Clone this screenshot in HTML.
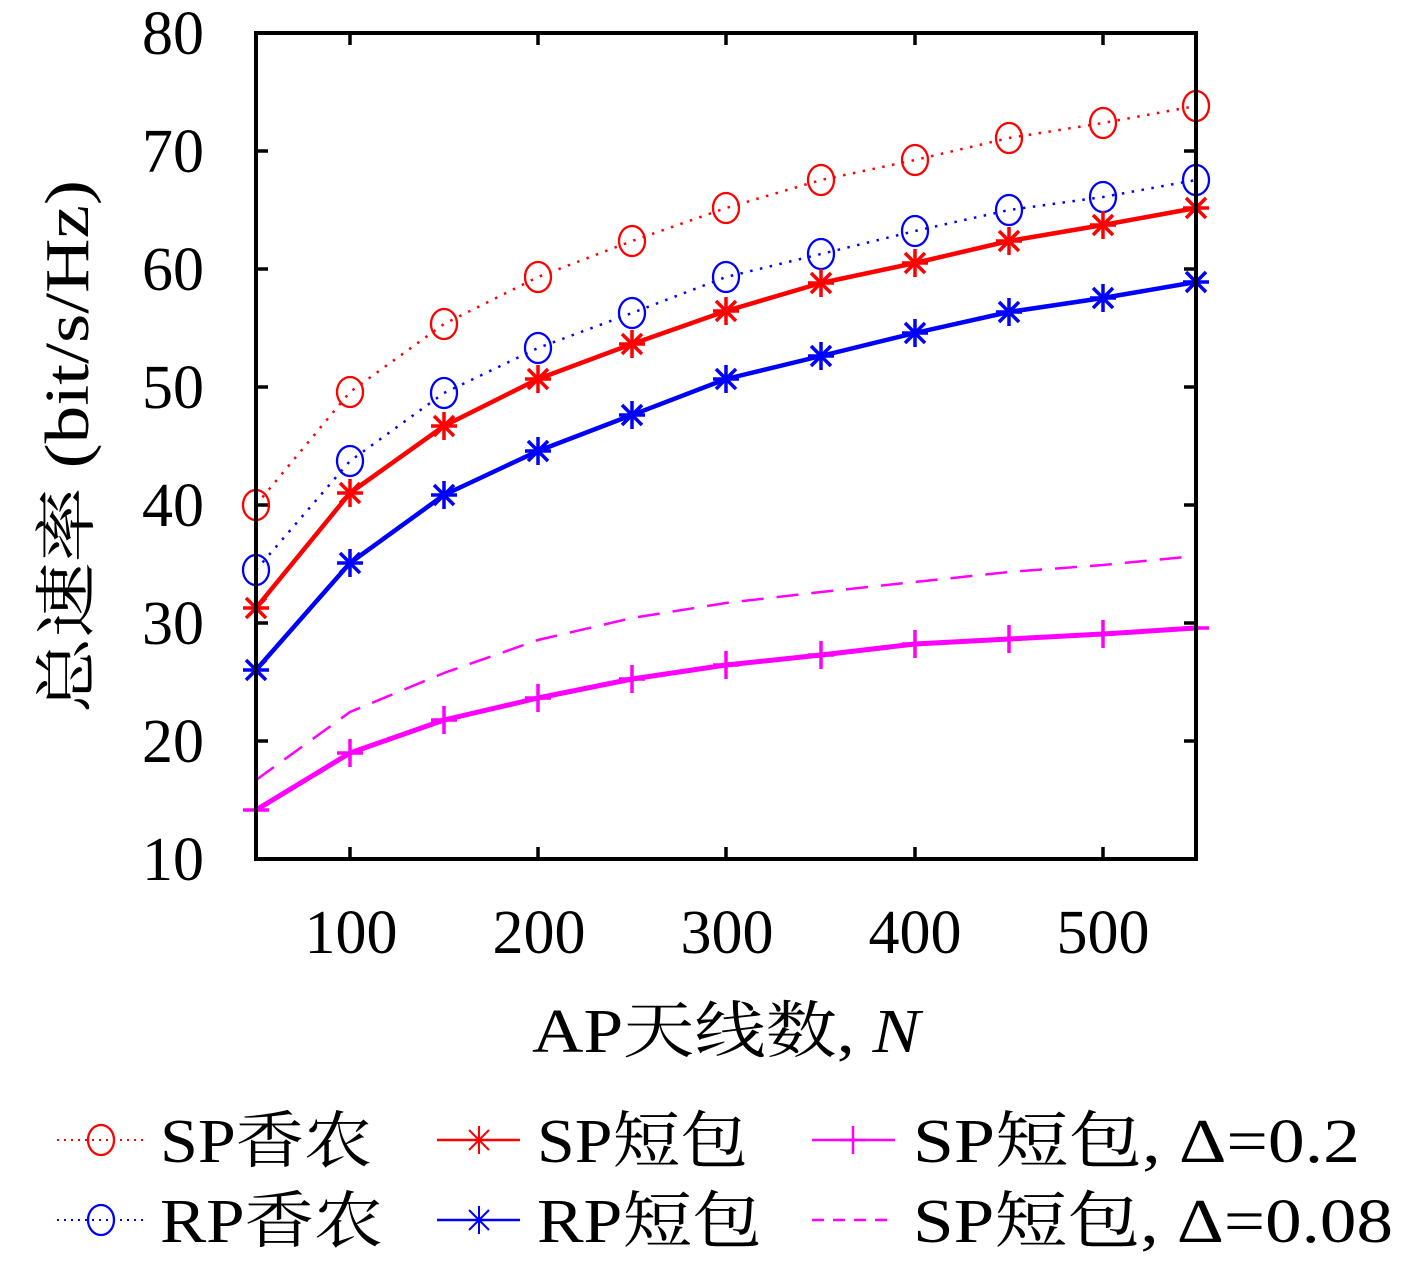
<!DOCTYPE html>
<html>
<head>
<meta charset="utf-8">
<style>
html,body{margin:0;padding:0;background:#fff;}
svg{display:block;}
svg text{font-family:"Liberation Serif","Times New Roman","Noto Serif CJK SC","DejaVu Serif",serif;fill:#000;}
</style>
</head>
<body>
<svg width="1417" height="1267" viewBox="0 0 1417 1267" xmlns="http://www.w3.org/2000/svg" font-family="'Liberation Serif', 'Times New Roman', 'Noto Serif CJK SC', 'DejaVu Serif', serif">
<defs>
  <g id="star">
    <line x1="-13" y1="0" x2="13" y2="0"/>
    <line x1="0" y1="-14" x2="0" y2="14"/>
    <line x1="-10" y1="-10" x2="10" y2="10"/>
    <line x1="-10" y1="10" x2="10" y2="-10"/>
  </g>
  <g id="plus">
    <line x1="-13" y1="0" x2="13" y2="0"/>
    <line x1="0" y1="-14" x2="0" y2="14"/>
  </g>
</defs>
<rect width="1417" height="1267" fill="#fff"/>

<!-- Series: SP Shannon (red dotted, circles) -->
<polyline fill="none" stroke="#ff0000" stroke-width="2.5" stroke-dasharray="2.5 7.5"
  points="256,505 350,392 444,324 538,277 632,241 726,208 821,180 915,160 1009,138 1103,123 1196,106"/>
<g fill="none" stroke="#ff0000" stroke-width="2.3">
  <ellipse cx="256" cy="505" rx="13" ry="15"/><ellipse cx="350" cy="392" rx="13" ry="15"/>
  <ellipse cx="444" cy="324" rx="13" ry="15"/><ellipse cx="538" cy="277" rx="13" ry="15"/>
  <ellipse cx="632" cy="241" rx="13" ry="15"/><ellipse cx="726" cy="208" rx="13" ry="15"/>
  <ellipse cx="821" cy="180" rx="13" ry="15"/><ellipse cx="915" cy="160" rx="13" ry="15"/>
  <ellipse cx="1009" cy="138" rx="13" ry="15"/><ellipse cx="1103" cy="123" rx="13" ry="15"/>
  <ellipse cx="1196" cy="106" rx="13" ry="15"/>
</g>

<!-- Series: RP Shannon (blue dotted, circles) -->
<polyline fill="none" stroke="#0000ff" stroke-width="2.5" stroke-dasharray="2.5 7.5"
  points="256,570 350,461 444,393 538,348 632,313 726,277 821,254 915,231 1009,210 1103,197 1196,180"/>
<g fill="none" stroke="#0000ff" stroke-width="2.3">
  <ellipse cx="256" cy="570" rx="13" ry="15"/><ellipse cx="350" cy="461" rx="13" ry="15"/>
  <ellipse cx="444" cy="393" rx="13" ry="15"/><ellipse cx="538" cy="348" rx="13" ry="15"/>
  <ellipse cx="632" cy="313" rx="13" ry="15"/><ellipse cx="726" cy="277" rx="13" ry="15"/>
  <ellipse cx="821" cy="254" rx="13" ry="15"/><ellipse cx="915" cy="231" rx="13" ry="15"/>
  <ellipse cx="1009" cy="210" rx="13" ry="15"/><ellipse cx="1103" cy="197" rx="13" ry="15"/>
  <ellipse cx="1196" cy="180" rx="13" ry="15"/>
</g>

<!-- Series: SP short packet (red solid, stars) -->
<polyline fill="none" stroke="#ff0000" stroke-width="4.5" stroke-linejoin="round"
  points="256,608 350,493 444,426 538,379 632,344 726,311 821,283 915,263 1009,241 1103,225 1196,208"/>
<g stroke="#ff0000" stroke-width="3.5">
  <use href="#star" x="256" y="608"/><use href="#star" x="350" y="493"/>
  <use href="#star" x="444" y="426"/><use href="#star" x="538" y="379"/>
  <use href="#star" x="632" y="344"/><use href="#star" x="726" y="311"/>
  <use href="#star" x="821" y="283"/><use href="#star" x="915" y="263"/>
  <use href="#star" x="1009" y="241"/><use href="#star" x="1103" y="225"/>
  <use href="#star" x="1196" y="208"/>
</g>

<!-- Series: RP short packet (blue solid, stars) -->
<polyline fill="none" stroke="#0000ff" stroke-width="4.5" stroke-linejoin="round"
  points="256,670 350,563 444,495 538,451 632,415 726,379 821,356 915,333 1009,312 1103,298 1196,282"/>
<g stroke="#0000ff" stroke-width="3.5">
  <use href="#star" x="256" y="670"/><use href="#star" x="350" y="563"/>
  <use href="#star" x="444" y="495"/><use href="#star" x="538" y="451"/>
  <use href="#star" x="632" y="415"/><use href="#star" x="726" y="379"/>
  <use href="#star" x="821" y="356"/><use href="#star" x="915" y="333"/>
  <use href="#star" x="1009" y="312"/><use href="#star" x="1103" y="298"/>
  <use href="#star" x="1196" y="282"/>
</g>

<!-- Series: SP short, Delta=0.08 (magenta dashed) -->
<polyline fill="none" stroke="#ff00ff" stroke-width="2.5" stroke-dasharray="22 13"
  points="256,780 350,712 444,673 538,640 632,618 726,603 821,592 915,582 1009,572 1103,565 1196,556"/>

<!-- Series: SP short, Delta=0.2 (magenta solid, plus) -->
<polyline fill="none" stroke="#ff00ff" stroke-width="5" stroke-linejoin="round"
  points="256,810 350,753 444,720 538,698 632,679 726,665 821,655 915,644 1009,639 1103,634 1196,628"/>
<g stroke="#ff00ff" stroke-width="3.5">
  <use href="#plus" x="256" y="810"/><use href="#plus" x="350" y="753"/>
  <use href="#plus" x="444" y="720"/><use href="#plus" x="538" y="698"/>
  <use href="#plus" x="632" y="679"/><use href="#plus" x="726" y="665"/>
  <use href="#plus" x="821" y="655"/><use href="#plus" x="915" y="644"/>
  <use href="#plus" x="1009" y="639"/><use href="#plus" x="1103" y="634"/>
  <use href="#plus" x="1196" y="628"/>
</g>

<!-- Frame -->
<rect x="256" y="33" width="940" height="826" fill="none" stroke="#000" stroke-width="4"/>
<g stroke="#000" stroke-width="3.5">
  <line x1="256" y1="151" x2="268" y2="151"/><line x1="1196" y1="151" x2="1184" y2="151"/>
  <line x1="256" y1="269" x2="268" y2="269"/><line x1="1196" y1="269" x2="1184" y2="269"/>
  <line x1="256" y1="387" x2="268" y2="387"/><line x1="1196" y1="387" x2="1184" y2="387"/>
  <line x1="256" y1="505" x2="268" y2="505"/><line x1="1196" y1="505" x2="1184" y2="505"/>
  <line x1="256" y1="623" x2="268" y2="623"/><line x1="1196" y1="623" x2="1184" y2="623"/>
  <line x1="256" y1="741" x2="268" y2="741"/><line x1="1196" y1="741" x2="1184" y2="741"/>
  <line x1="350" y1="859" x2="350" y2="847"/><line x1="350" y1="33" x2="350" y2="45"/>
  <line x1="538" y1="859" x2="538" y2="847"/><line x1="538" y1="33" x2="538" y2="45"/>
  <line x1="726" y1="859" x2="726" y2="847"/><line x1="726" y1="33" x2="726" y2="45"/>
  <line x1="915" y1="859" x2="915" y2="847"/><line x1="915" y1="33" x2="915" y2="45"/>
  <line x1="1103" y1="859" x2="1103" y2="847"/><line x1="1103" y1="33" x2="1103" y2="45"/>
</g>

<!-- Y tick labels -->
<g font-size="62" text-anchor="end" font-family="'Liberation Serif', 'Times New Roman', 'DejaVu Serif', serif">
  <text x="204" y="54" style="font-family:'Liberation Serif','Times New Roman',serif">80</text>
  <text x="204" y="172" style="font-family:'Liberation Serif','Times New Roman',serif">70</text>
  <text x="204" y="290" style="font-family:'Liberation Serif','Times New Roman',serif">60</text>
  <text x="204" y="408" style="font-family:'Liberation Serif','Times New Roman',serif">50</text>
  <text x="204" y="526" style="font-family:'Liberation Serif','Times New Roman',serif">40</text>
  <text x="204" y="644" style="font-family:'Liberation Serif','Times New Roman',serif">30</text>
  <text x="204" y="762" style="font-family:'Liberation Serif','Times New Roman',serif">20</text>
  <text x="204" y="880" style="font-family:'Liberation Serif','Times New Roman',serif">10</text>
</g>
<!-- X tick labels -->
<g font-size="62" text-anchor="middle">
  <text x="351" y="953" style="font-family:'Liberation Serif','Times New Roman',serif">100</text>
  <text x="539" y="953" style="font-family:'Liberation Serif','Times New Roman',serif">200</text>
  <text x="727" y="953" style="font-family:'Liberation Serif','Times New Roman',serif">300</text>
  <text x="915" y="953" style="font-family:'Liberation Serif','Times New Roman',serif">400</text>
  <text x="1103" y="953" style="font-family:'Liberation Serif','Times New Roman',serif">500</text>
</g>

<!-- Axis labels -->
<text x="532" y="1052" font-size="62" textLength="388" lengthAdjust="spacingAndGlyphs" style="font-family:'Liberation Serif','Noto Serif CJK SC',serif">AP天线数, <tspan font-style="italic">N</tspan></text>
<text transform="translate(88,446.5) rotate(-90)" x="0" y="0" font-size="62" text-anchor="middle" textLength="533" lengthAdjust="spacingAndGlyphs" style="font-family:'Liberation Serif','Noto Serif CJK SC',serif">总速率 (bit/s/Hz)</text>

<!-- Legend row 1 -->
<line x1="57" y1="1140" x2="145" y2="1140" stroke="#ff0000" stroke-width="2" stroke-dasharray="2 5"/>
<ellipse cx="101" cy="1140" rx="13" ry="15" fill="none" stroke="#ff0000" stroke-width="2.3"/>
<text x="160" y="1162" font-size="62" textLength="212" lengthAdjust="spacingAndGlyphs" style="font-family:'Liberation Serif','Noto Serif CJK SC',serif">SP香农</text>

<line x1="437" y1="1140" x2="520" y2="1140" stroke="#ff0000" stroke-width="2.5"/>
<g stroke="#ff0000" stroke-width="2"><use href="#star" x="479" y="1140"/></g>
<text x="537" y="1162" font-size="62" textLength="211" lengthAdjust="spacingAndGlyphs" style="font-family:'Liberation Serif','Noto Serif CJK SC',serif">SP短包</text>

<line x1="812" y1="1140" x2="895" y2="1140" stroke="#ff00ff" stroke-width="2.5"/>
<g stroke="#ff00ff" stroke-width="2.5"><use href="#plus" x="853" y="1140"/></g>
<text x="913" y="1162" font-size="62" textLength="447" lengthAdjust="spacingAndGlyphs" style="font-family:'Liberation Serif','Noto Serif CJK SC',serif">SP短包, Δ=0.2</text>

<!-- Legend row 2 -->
<line x1="57" y1="1220" x2="145" y2="1220" stroke="#0000ff" stroke-width="2" stroke-dasharray="2 5"/>
<ellipse cx="101" cy="1220" rx="13" ry="15" fill="none" stroke="#0000ff" stroke-width="2.3"/>
<text x="160" y="1242" font-size="62" textLength="223" lengthAdjust="spacingAndGlyphs" style="font-family:'Liberation Serif','Noto Serif CJK SC',serif">RP香农</text>

<line x1="437" y1="1220" x2="520" y2="1220" stroke="#0000ff" stroke-width="2.5"/>
<g stroke="#0000ff" stroke-width="2"><use href="#star" x="479" y="1220"/></g>
<text x="537" y="1242" font-size="62" textLength="225" lengthAdjust="spacingAndGlyphs" style="font-family:'Liberation Serif','Noto Serif CJK SC',serif">RP短包</text>

<line x1="812" y1="1220" x2="895" y2="1220" stroke="#ff00ff" stroke-width="2.5" stroke-dasharray="12 9"/>
<text x="913" y="1242" font-size="62" textLength="480" lengthAdjust="spacingAndGlyphs" style="font-family:'Liberation Serif','Noto Serif CJK SC',serif">SP短包, Δ=0.08</text>
</svg>
</body>
</html>
